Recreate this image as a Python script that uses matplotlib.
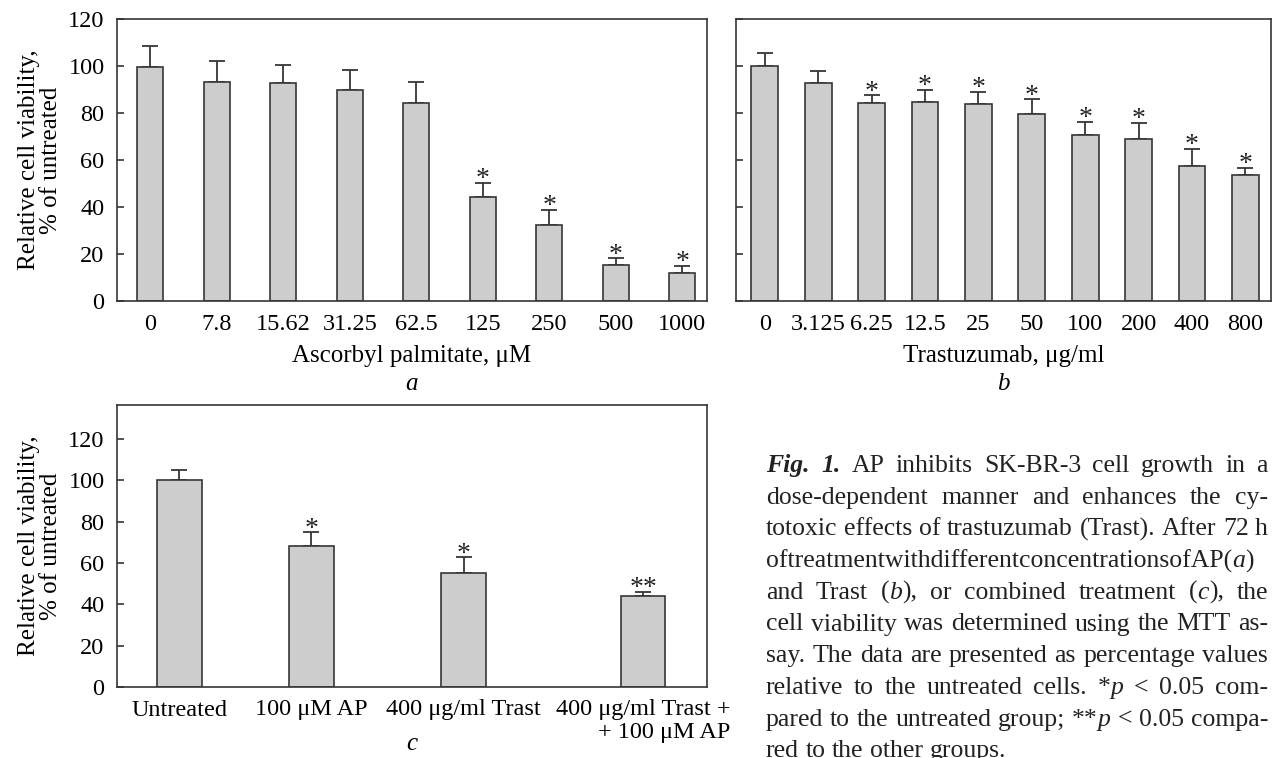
import matplotlib
matplotlib.use('Agg')
import matplotlib.pyplot as plt

plt.rcParams['font.family'] = ['Liberation Serif', 'DejaVu Serif']

# panel a: ascorbyl palmitate dose series
ap_doses = ['0', '7.8', '15.62', '31.25', '62.5', '125', '250', '500', '1000']
ap_viability = [99.7, 93.2, 92.9, 89.6, 84.3, 44.4, 32.2, 15.4, 12.1]
ap_err = [9.0, 8.8, 7.5, 8.5, 9.0, 5.9, 6.7, 2.8, 3.0]
ap_sig = ['', '', '', '', '', '*', '*', '*', '*']

# panel b: trastuzumab dose series
trast_doses = ['0', '3.125', '6.25', '12.5', '25', '50', '100', '200', '400', '800']
trast_viability = [100.0, 92.6, 84.3, 84.6, 83.9, 79.5, 70.7, 69.1, 57.4, 53.8]
trast_err = [5.4, 5.1, 3.3, 5.4, 5.1, 6.4, 5.5, 6.7, 7.3, 2.8]
trast_sig = ['', '', '*', '*', '*', '*', '*', '*', '*', '*']

# panel c: combined treatment
combo_groups = ['Untreated', '100 μM AP', '400 μg/ml Trast', '400 μg/ml Trast +\n+ 100 μM AP']
combo_viability = [100.0, 68.2, 55.3, 43.9]
combo_err = [4.8, 6.6, 7.6, 2.1]
combo_sig = ['', '*', '*', '**']

caption = [
    '#Fig.# #1.# AP inhibits SK-BR-3 cell growth in a',
    'dose-dependent manner and enhances the cy-',
    'totoxic effects of trastuzumab (Trast). After 72 h',
    'oftreatmentwithdifferentconcentrationsofAP(_a_)',
    'and Trast (_b_), or combined treatment (_c_), the',
    'cell viability was determined using the MTT as-',
    'say. The data are presented as percentage values',
    'relative to the untreated cells. *_p_ < 0.05 com-',
    'pared to the untreated group; **_p_ < 0.05 compa-',
    'red to the other groups.',
]

W, H = 1273, 758
FS = 17.5
CAP_FS = 18.5
EDGE = '#363636'
FILL = '#cdcdcd'

fig = plt.figure(figsize=(W / 100, H / 100), dpi=100)


def px_axes(left, top, right, bottom):
    return fig.add_axes([left / W, 1 - bottom / H, (right - left) / W, (bottom - top) / H])


def bar_panel(ax, pos, vals, err, sig, labels, width):
    ax.bar(pos, vals, width, color=FILL, edgecolor=EDGE, linewidth=1.2, zorder=2)
    ax.errorbar(pos, vals, yerr=[[0] * len(vals), err], fmt='none', ecolor=EDGE,
                elinewidth=1.3, capsize=6, capthick=1.3, zorder=1)
    for x, v, e, s in zip(pos, vals, err, sig):
        if s:
            ax.annotate(s, (x, v + e), xytext=(0, -2.5), textcoords='offset points',
                        ha='center', va='baseline', fontsize=20, color='#222222')
    ax.set_xticks(pos)
    ax.set_xticklabels(labels)
    ax.tick_params(axis='x', length=0, pad=9, labelsize=FS)
    ax.tick_params(axis='y', direction='in', length=5, width=1.2, pad=9, labelsize=FS,
                   color=EDGE)
    for sp in ax.spines.values():
        sp.set_linewidth(1.2)
        sp.set_color(EDGE)


def under_text(ax, y_px, bottom_px, height_px, s, **kw):
    ax.text(0.5, (bottom_px - y_px) / height_px, s, transform=ax.transAxes,
            ha='center', va='baseline', fontsize=FS + 0.5, **kw)


# panel a
ax_a = px_axes(117, 19, 707, 301)
pos_a = list(range(len(ap_doses)))
bar_panel(ax_a, pos_a, ap_viability, ap_err, ap_sig, ap_doses, 0.39)
ax_a.set_xlim(-0.5, 8.37)
ax_a.set_ylim(0, 120)
ax_a.set_yticks(range(0, 121, 20))
ax_a.set_ylabel('Relative cell viability,\n% of untreated', fontsize=FS + 0.5, linespacing=0.95)
ax_a.yaxis.set_label_coords(-0.094, 0.5)
under_text(ax_a, 362, 301, 282, 'Ascorbyl palmitate, μM')
under_text(ax_a, 390, 301, 282, 'a', style='italic')

# panel b
ax_b = px_axes(736, 19, 1271, 301)
pos_b = list(range(len(trast_doses)))
bar_panel(ax_b, pos_b, trast_viability, trast_err, trast_sig, trast_doses, 0.5)
ax_b.set_xlim(-0.54, 9.48)
ax_b.set_ylim(0, 120)
ax_b.set_yticks(range(0, 121, 20))
ax_b.set_yticklabels([])
under_text(ax_b, 362, 301, 282, 'Trastuzumab, μg/ml')
under_text(ax_b, 390, 301, 282, 'b', style='italic')

# panel c
ax_c = px_axes(117, 405, 707, 687)
pos_c = [0, 1, 2.155, 3.515]
bar_panel(ax_c, pos_c, combo_viability, combo_err, combo_sig, combo_groups, 0.34)
for lab in ax_c.get_xticklabels():
    lab.set_multialignment('right')
    lab.set_linespacing(1.1)
ax_c.set_xlim(-0.473, 4.0)
ax_c.set_ylim(0, 136.5)
ax_c.set_yticks(range(0, 121, 20))
ax_c.set_ylabel('Relative cell viability,\n% of untreated', fontsize=FS + 0.5, linespacing=0.95)
ax_c.yaxis.set_label_coords(-0.094, 0.5)
under_text(ax_c, 750, 687, 282, 'c', style='italic')

# caption, justified line by line
renderer = fig.canvas.get_renderer()
styles = {'r': {}, 'i': {'style': 'italic'}, 'b': {'style': 'italic', 'weight': 'bold'}}


def parse_word(word):
    segs, cur, mode = [], '', 'r'
    for ch in word:
        if ch in '_#':
            if cur:
                segs.append((cur, mode))
            cur = ''
            new = 'i' if ch == '_' else 'b'
            mode = 'r' if mode == new else new
        else:
            cur += ch
    if cur:
        segs.append((cur, mode))
    return segs


def text_width(s, mode):
    t = fig.text(0, 0, s, fontsize=CAP_FS, **styles[mode])
    w = t.get_window_extent(renderer).width
    t.remove()
    return w


cap_left, cap_right = 766, 1268
space_w = text_width('a a', 'r') - text_width('aa', 'r')
for i, line in enumerate(caption):
    base = 472 + i * 31.7
    words = [parse_word(w) for w in line.split(' ')]
    widths = [[text_width(s, m) for s, m in w] for w in words]
    total = sum(sum(w) for w in widths)
    if i < len(caption) - 1 and len(words) > 1:
        gap = max((cap_right - cap_left - total) / (len(words) - 1), 0.3 * space_w)
    else:
        gap = space_w
    x = cap_left
    for w, ws in zip(words, widths):
        for (s, m), sw in zip(w, ws):
            fig.text(x / W, 1 - base / H, s, fontsize=CAP_FS, va='baseline', ha='left',
                     color='#222222', **styles[m])
            x += sw
        x += gap

fig.savefig('out.png', dpi=100)
